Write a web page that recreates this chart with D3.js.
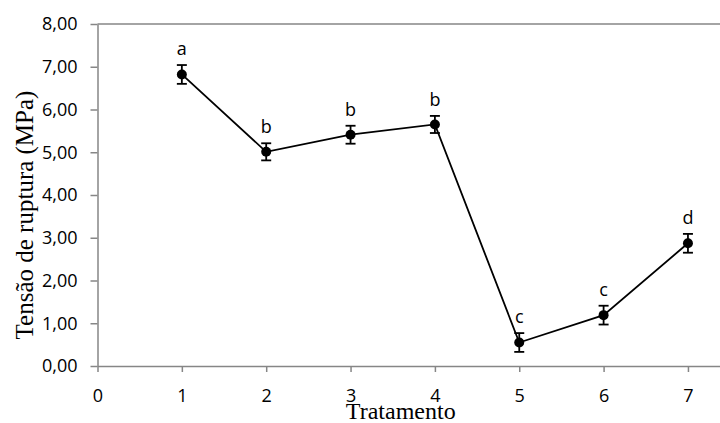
<!DOCTYPE html>
<html>
<head>
<meta charset="utf-8">
<script src="https://cdnjs.cloudflare.com/ajax/libs/d3/7.8.5/d3.min.js"></script>
<style>
  body { margin: 0; background: #fff; }
  .axis path, .axis line { stroke: #868686; }
  .axis text { font-family: "Open Sans", sans-serif; font-size: 18px; fill: #000; }
</style>
</head>
<body>
<div id="vis"></div>
<script>
// data
var tratamento = [1, 2, 3, 4, 5, 6, 7],
    tensao     = [6.82, 5.01, 5.41, 5.65, 0.55, 1.19, 2.87],
    erro       = [0.22, 0.20, 0.21, 0.20, 0.22, 0.22, 0.22],
    letras     = ["a", "b", "b", "b", "c", "c", "d"],
    xTicks     = [0, 1, 2, 3, 4, 5, 6, 7],
    yTicks     = [0, 1, 2, 3, 4, 5, 6, 7, 8];

var width = 720,
    height = 423;

var svg = d3.select("#vis").append("svg")
    .attr("width", width)
    .attr("height", height);

var x = d3.scaleLinear()
    .domain([0, 7.38])
    .range([97.5, 720]);

var y = d3.scaleLinear()
    .domain([0, 8])
    .range([366, 24]);

var comma = function(d) { return d3.format(".2f")(d).replace(".", ","); };

// top border line
svg.append("line")
    .attr("x1", x(0)).attr("x2", width)
    .attr("y1", y(8)).attr("y2", y(8))
    .attr("stroke", "#868686")
    .attr("stroke-width", 1.5);

// y axis
svg.append("g")
    .attr("class", "axis")
    .attr("transform", "translate(" + x(0) + ",0)")
    .call(d3.axisLeft(y)
      .tickValues(yTicks)
      .tickSize(7)
      .tickSizeOuter(0)
      .tickPadding(13)
      .tickFormat(comma))
  .selectAll("path, line")
    .attr("stroke-width", 1.5);

// x axis
var xg = svg.append("g")
    .attr("class", "axis")
    .attr("transform", "translate(0," + y(0) + ")")
    .call(d3.axisBottom(x)
      .tickValues(xTicks)
      .tickSize(6)
      .tickSizeOuter(0)
      .tickPadding(17)
      .tickFormat(d3.format("d")));
xg.selectAll("path, line").attr("stroke-width", 1.5);

// axis titles
svg.append("text")
    .attr("x", (x(0) + width) / 2 - 8)
    .attr("y", 419)
    .attr("text-anchor", "middle")
    .style("font-family", "'Liberation Serif', serif")
    .style("font-size", "24px")
    .text("Tratamento");

svg.append("text")
    .attr("transform", "translate(33,215) rotate(-90)")
    .attr("text-anchor", "middle")
    .style("font-family", "'Liberation Serif', serif")
    .style("font-size", "25px")
    .text("Tensão de ruptura (MPa)");

var data = tratamento.map(function(t, i) {
  return { t: t, v: tensao[i], e: erro[i], l: letras[i] };
});

// line
svg.append("path")
    .datum(data)
    .attr("fill", "none")
    .attr("stroke", "#000")
    .attr("stroke-width", 1.8)
    .attr("d", d3.line()
      .x(function(d) { return x(d.t); })
      .y(function(d) { return y(d.v); }));

// error bars
var eb = svg.append("g").selectAll("g")
    .data(data)
  .enter().append("g")
    .attr("stroke", "#000")
    .attr("stroke-width", 1.8);

eb.append("line")
    .attr("x1", function(d) { return x(d.t); })
    .attr("x2", function(d) { return x(d.t); })
    .attr("y1", function(d) { return y(d.v - d.e); })
    .attr("y2", function(d) { return y(d.v + d.e); });

eb.selectAll(".cap")
    .data(function(d) { return [[d.t, d.v - d.e], [d.t, d.v + d.e]]; })
  .enter().append("line")
    .attr("class", "cap")
    .attr("x1", function(d) { return x(d[0]) - 5; })
    .attr("x2", function(d) { return x(d[0]) + 5; })
    .attr("y1", function(d) { return y(d[1]); })
    .attr("y2", function(d) { return y(d[1]); });

// points
svg.append("g").selectAll("circle")
    .data(data)
  .enter().append("circle")
    .attr("cx", function(d) { return x(d.t); })
    .attr("cy", function(d) { return y(d.v); })
    .attr("r", 5)
    .attr("fill", "#000");

// letters
svg.append("g").selectAll("text")
    .data(data)
  .enter().append("text")
    .attr("x", function(d) { return x(d.t); })
    .attr("y", function(d) { return y(d.v + d.e) - 10; })
    .attr("text-anchor", "middle")
    .style("font-family", "'Open Sans', sans-serif")
    .style("font-size", "18px")
    .text(function(d) { return d.l; });
</script>
</body>
</html>
